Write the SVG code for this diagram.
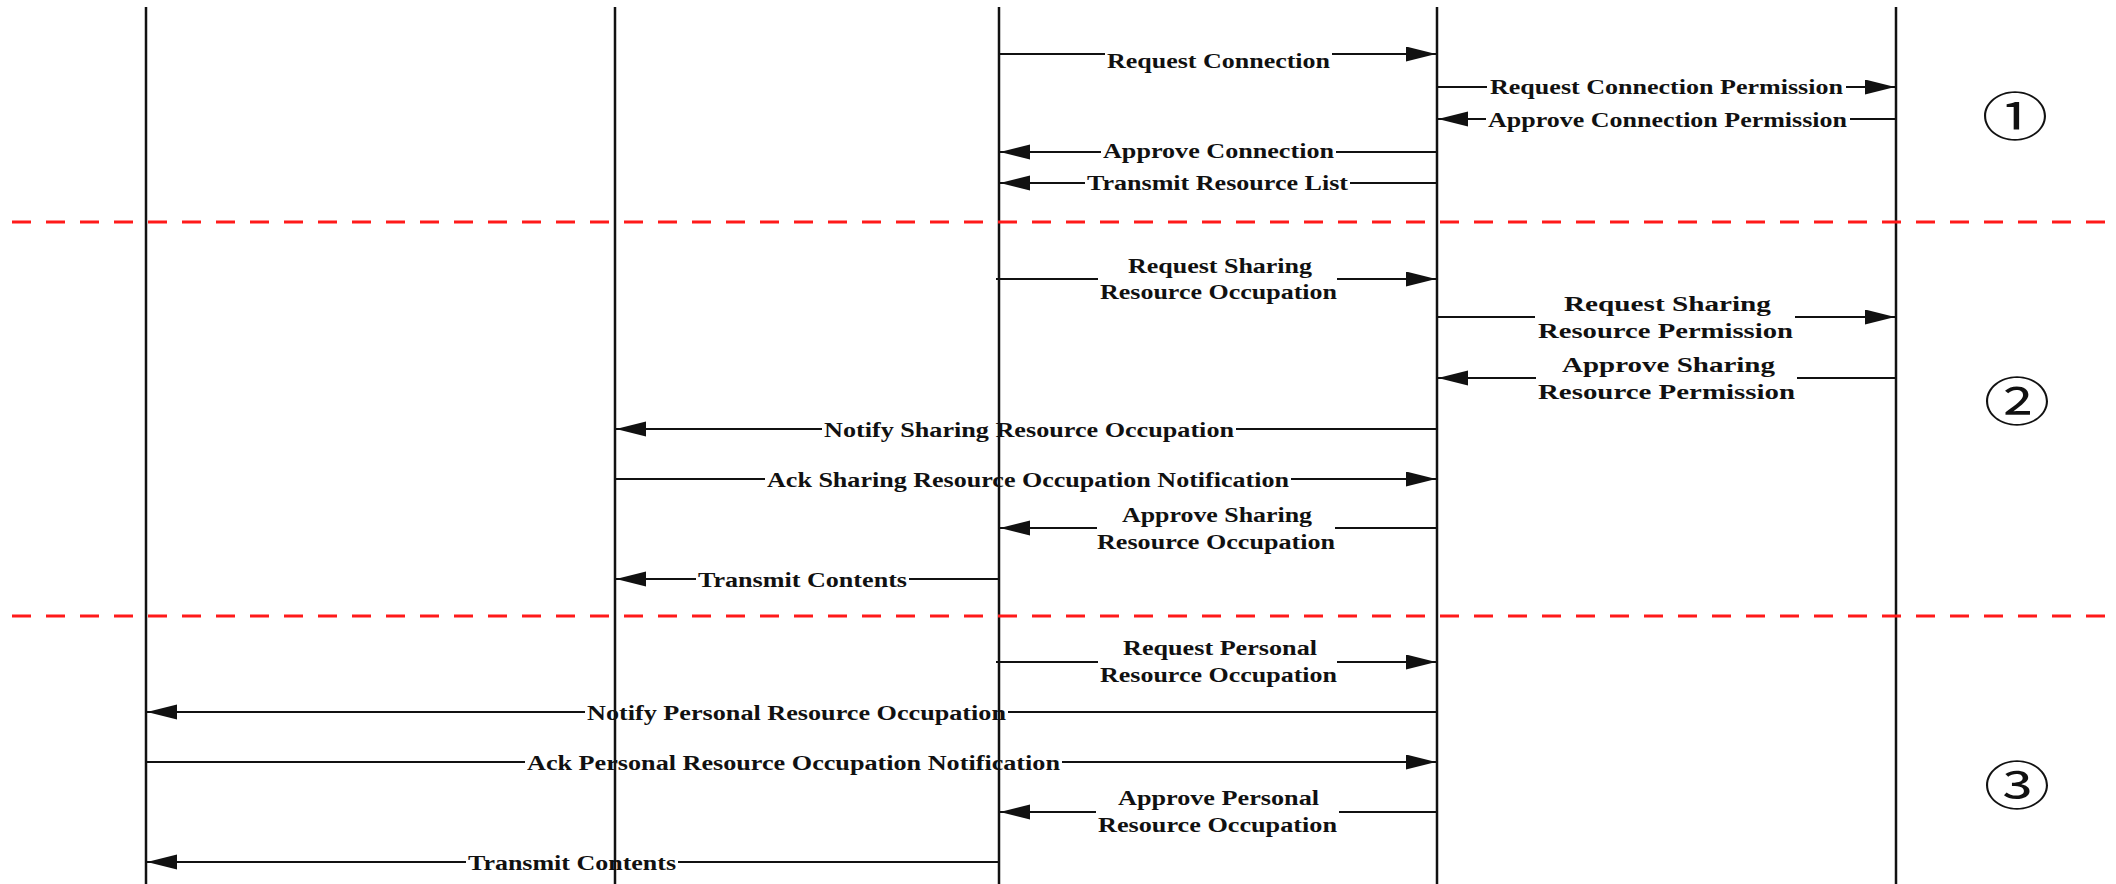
<svg xmlns="http://www.w3.org/2000/svg" width="2116" height="884" viewBox="0 0 2116 884">
<style>
.life{stroke:#111;stroke-width:2.5;fill:none}
.msg{stroke:#111;stroke-width:2;fill:none}
.sep{stroke:#ff1a1a;stroke-width:3;stroke-dasharray:19 15;fill:none}
.lbl{font-family:"Liberation Serif","Times New Roman",serif;font-weight:bold;font-size:20px;fill:#111}
.num{font-family:"Noto Sans CJK JP","DejaVu Sans",sans-serif;font-size:52px;fill:#111}
</style>
<defs>
<marker id="ah" markerUnits="userSpaceOnUse" markerWidth="30" markerHeight="16" refX="30" refY="7.5" orient="auto">
<path d="M0,0 L30,7.5 L0,15 Z" fill="#111"/>
</marker>
</defs>
<rect width="2116" height="884" fill="#fff"/>
<g id="lifelines">
<g id="L1"><line class="life" x1="146" y1="7" x2="146" y2="884"/></g>
<g id="L2"><line class="life" x1="615" y1="7" x2="615" y2="884"/></g>
<g id="L3"><line class="life" x1="999" y1="7" x2="999" y2="884"/></g>
<g id="L4"><line class="life" x1="1437" y1="7" x2="1437" y2="884"/></g>
<g id="L5"><line class="life" x1="1896" y1="7" x2="1896" y2="884"/></g>
</g>
<g id="separators">
<line class="sep" x1="12" y1="222" x2="2116" y2="222"/>
<line class="sep" x1="12" y1="616" x2="2116" y2="616"/>
</g>
<g id="connectors">
<line class="msg" x1="999" y1="54" x2="1105" y2="54"/><line class="msg" x1="1332" y1="54" x2="1436" y2="54" marker-end="url(#ah)"/>
<line class="msg" x1="1437" y1="87" x2="1487" y2="87"/><line class="msg" x1="1846" y1="87" x2="1895" y2="87" marker-end="url(#ah)"/>
<line class="msg" x1="1895" y1="119" x2="1850" y2="119"/><line class="msg" x1="1486" y1="119" x2="1438" y2="119" marker-end="url(#ah)"/>
<line class="msg" x1="1437" y1="152" x2="1336" y2="152"/><line class="msg" x1="1101" y1="152" x2="1000" y2="152" marker-end="url(#ah)"/>
<line class="msg" x1="1437" y1="183" x2="1350" y2="183"/><line class="msg" x1="1085" y1="183" x2="1000" y2="183" marker-end="url(#ah)"/>
<line class="msg" x1="996" y1="279" x2="1098" y2="279"/><line class="msg" x1="1337" y1="279" x2="1436" y2="279" marker-end="url(#ah)"/>
<line class="msg" x1="1437" y1="317" x2="1535" y2="317"/><line class="msg" x1="1795" y1="317" x2="1895" y2="317" marker-end="url(#ah)"/>
<line class="msg" x1="1896" y1="378" x2="1797" y2="378"/><line class="msg" x1="1536" y1="378" x2="1438" y2="378" marker-end="url(#ah)"/>
<line class="msg" x1="1437" y1="429" x2="1236" y2="429"/><line class="msg" x1="822" y1="429" x2="616" y2="429" marker-end="url(#ah)"/>
<line class="msg" x1="615" y1="479" x2="765" y2="479"/><line class="msg" x1="1291" y1="479" x2="1436" y2="479" marker-end="url(#ah)"/>
<line class="msg" x1="1437" y1="528" x2="1335" y2="528"/><line class="msg" x1="1097" y1="528" x2="1000" y2="528" marker-end="url(#ah)"/>
<line class="msg" x1="999" y1="579" x2="909" y2="579"/><line class="msg" x1="696" y1="579" x2="616" y2="579" marker-end="url(#ah)"/>
<line class="msg" x1="996" y1="662" x2="1098" y2="662"/><line class="msg" x1="1337" y1="662" x2="1436" y2="662" marker-end="url(#ah)"/>
<line class="msg" x1="1437" y1="712" x2="1008" y2="712"/><line class="msg" x1="585" y1="712" x2="147" y2="712" marker-end="url(#ah)"/>
<line class="msg" x1="146" y1="762" x2="525" y2="762"/><line class="msg" x1="1062" y1="762" x2="1436" y2="762" marker-end="url(#ah)"/>
<line class="msg" x1="1437" y1="812" x2="1339" y2="812"/><line class="msg" x1="1096" y1="812" x2="1000" y2="812" marker-end="url(#ah)"/>
<line class="msg" x1="999" y1="862" x2="678" y2="862"/><line class="msg" x1="466" y1="862" x2="147" y2="862" marker-end="url(#ah)"/>
</g>
<g id="labels">
<text class="lbl" x="1107" y="68" textLength="223" lengthAdjust="spacingAndGlyphs">Request Connection</text>
<text class="lbl" x="1490" y="94" textLength="353" lengthAdjust="spacingAndGlyphs">Request Connection Permission</text>
<text class="lbl" x="1488" y="127" textLength="359" lengthAdjust="spacingAndGlyphs">Approve Connection Permission</text>
<text class="lbl" x="1103" y="158" textLength="231" lengthAdjust="spacingAndGlyphs">Approve Connection</text>
<text class="lbl" x="1087" y="190" textLength="261" lengthAdjust="spacingAndGlyphs">Transmit Resource List</text>
<text class="lbl" x="1128" y="273" textLength="184" lengthAdjust="spacingAndGlyphs">Request Sharing</text>
<text class="lbl" x="1100" y="299" textLength="237" lengthAdjust="spacingAndGlyphs">Resource Occupation</text>
<text class="lbl" x="1564" y="311" textLength="207" lengthAdjust="spacingAndGlyphs">Request Sharing</text>
<text class="lbl" x="1538" y="338" textLength="255" lengthAdjust="spacingAndGlyphs">Resource Permission</text>
<text class="lbl" x="1562" y="372" textLength="213" lengthAdjust="spacingAndGlyphs">Approve Sharing</text>
<text class="lbl" x="1538" y="399" textLength="257" lengthAdjust="spacingAndGlyphs">Resource Permission</text>
<text class="lbl" x="824" y="437" textLength="410" lengthAdjust="spacingAndGlyphs">Notify Sharing Resource Occupation</text>
<text class="lbl" x="767" y="487" textLength="522" lengthAdjust="spacingAndGlyphs">Ack Sharing Resource Occupation Notification</text>
<text class="lbl" x="1122" y="522" textLength="190" lengthAdjust="spacingAndGlyphs">Approve Sharing</text>
<text class="lbl" x="1097" y="549" textLength="238" lengthAdjust="spacingAndGlyphs">Resource Occupation</text>
<text class="lbl" x="698" y="587" textLength="209" lengthAdjust="spacingAndGlyphs">Transmit Contents</text>
<text class="lbl" x="1123" y="655" textLength="194" lengthAdjust="spacingAndGlyphs">Request Personal</text>
<text class="lbl" x="1100" y="682" textLength="237" lengthAdjust="spacingAndGlyphs">Resource Occupation</text>
<text class="lbl" x="587" y="720" textLength="419" lengthAdjust="spacingAndGlyphs">Notify Personal Resource Occupation</text>
<text class="lbl" x="527" y="770" textLength="533" lengthAdjust="spacingAndGlyphs">Ack Personal Resource Occupation Notification</text>
<text class="lbl" x="1118" y="805" textLength="201" lengthAdjust="spacingAndGlyphs">Approve Personal</text>
<text class="lbl" x="1098" y="832" textLength="239" lengthAdjust="spacingAndGlyphs">Resource Occupation</text>
<text class="lbl" x="468" y="870" textLength="208" lengthAdjust="spacingAndGlyphs">Transmit Contents</text>
</g>
<g id="phase1" transform="translate(2015,118) scale(1.28,1)"><text class="num" x="0" y="18" text-anchor="middle">①</text></g>
<g id="phase2" transform="translate(2017,403) scale(1.28,1)"><text class="num" x="0" y="18" text-anchor="middle">②</text></g>
<g id="phase3" transform="translate(2017,787) scale(1.28,1)"><text class="num" x="0" y="18" text-anchor="middle">③</text></g>
</svg>
